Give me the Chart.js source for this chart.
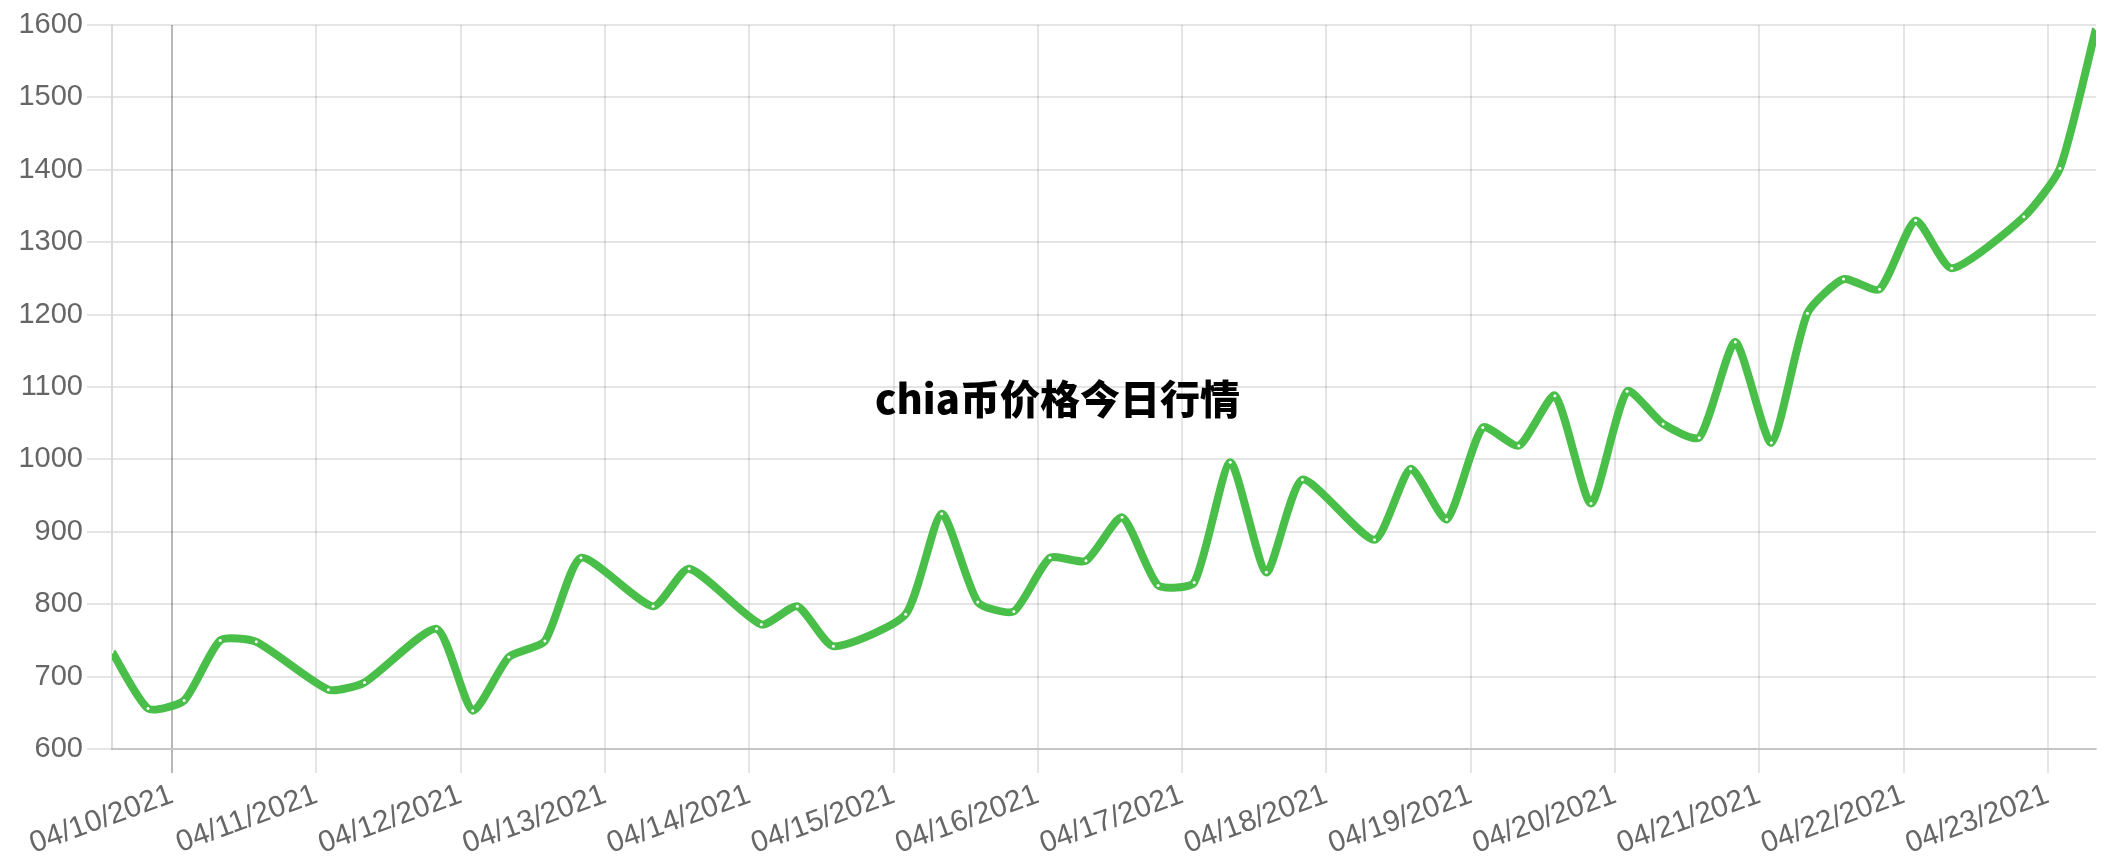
<!DOCTYPE html>
<html>
<head>
<meta charset="utf-8">
<title>chia币价格今日行情</title>
<script src="https://cdn.jsdelivr.net/npm/chart.js@4.4.0/dist/chart.umd.min.js"></script>
<style>
body { margin: 0; background: #fff; }
#wrap { position: relative; width: 2115px; height: 859px; }
#tytul {
	position: absolute; left: 0; top: 372px; width: 2115px;
	text-align: center; line-height: 50px;
	font-family: "Noto Sans CJK SC", "Noto Sans", sans-serif;
	font-weight: 900; font-size: 40px; color: #000;
}
</style>
</head>
<body>
<div id="wrap">
	<canvas id="mycanvas" width="2115" height="859"></canvas>
	<div id="tytul">chia币价格今日行情</div>
</div>
<script>
// czas notowania (co 6h, kilka brakuje)
var czasy = [
	'2021-04-09 14', '2021-04-09 20',
	'2021-04-10 02', '2021-04-10 08', '2021-04-10 14',
	'2021-04-11 02', '2021-04-11 08', '2021-04-11 20',
	'2021-04-12 02', '2021-04-12 08', '2021-04-12 14', '2021-04-12 20',
	'2021-04-13 08', '2021-04-13 14',
	'2021-04-14 02', '2021-04-14 08', '2021-04-14 14',
	'2021-04-15 02', '2021-04-15 08', '2021-04-15 14', '2021-04-15 20',
	'2021-04-16 02', '2021-04-16 08', '2021-04-16 14', '2021-04-16 20',
	'2021-04-17 02', '2021-04-17 08', '2021-04-17 14', '2021-04-17 20',
	'2021-04-18 08', '2021-04-18 14', '2021-04-18 20',
	'2021-04-19 02', '2021-04-19 08', '2021-04-19 14', '2021-04-19 20',
	'2021-04-20 02', '2021-04-20 08', '2021-04-20 14', '2021-04-20 20',
	'2021-04-21 02', '2021-04-21 08', '2021-04-21 14', '2021-04-21 20',
	'2021-04-22 02', '2021-04-22 08', '2021-04-22 20',
	'2021-04-23 02', '2021-04-23 08'
];
// cena
var ceny = [
	734, 656,
	667, 750, 748,
	682, 692, 766,
	653, 727, 749, 864,
	797, 849,
	772, 797, 742,
	786, 925, 803, 790,
	864, 860, 920, 826,
	830, 996, 844, 972,
	889, 987, 917,
	1044, 1019, 1088, 939,
	1094, 1049, 1030, 1162,
	1023, 1202, 1249, 1235,
	1330, 1264, 1335,
	1402, 1595
];
// podpisy osi x
var etykiety = ['04/10/2021', '04/11/2021', '04/12/2021', '04/13/2021', '04/14/2021',
	'04/15/2021', '04/16/2021', '04/17/2021', '04/18/2021', '04/19/2021',
	'04/20/2021', '04/21/2021', '04/22/2021', '04/23/2021'];
var osY = [600, 700, 800, 900, 1000, 1100, 1200, 1300, 1400, 1500, 1600];

var start = Date.UTC(2021, 3, 10, 0);

function godziny(s) {
	var d = s.split(/[- ]/);
	return (Date.UTC(+d[0], +d[1] - 1, +d[2], +d[3]) - start) / 3600000;
}
function dzien(e) {
	var d = e.split('/');
	return (Date.UTC(+d[2], +d[0] - 1, +d[1]) - start) / 3600000;
}

var punkty = [];
for (var i = 0; i < czasy.length; i++) {
	punkty.push({ x: godziny(czasy[i]), y: ceny[i] });
}

var zielony = 'rgb(73, 191, 73)';
var font = "'Liberation Sans', Arial, sans-serif";

var ctx = document.getElementById('mycanvas');
var wykres = new Chart(ctx, {
	type: 'line',
	data: {
		datasets: [{
			label: 'chia',
			data: punkty,
			borderColor: zielony,
			borderWidth: 8,
			fill: false,
			tension: 0.2,
			pointRadius: 1.5,
			pointBorderWidth: 0,
			pointBackgroundColor: '#fff',
			pointHoverRadius: 3
		}]
	},
	options: {
		responsive: false,
		animation: false,
		layout: { padding: { left: 0, right: 19, top: 25, bottom: 0 } },
		plugins: {
			legend: { display: false },
			title: { display: false },
			tooltip: { enabled: false }
		},
		scales: {
			x: {
				type: 'linear',
				min: godziny(czasy[0]),
				max: godziny(czasy[czasy.length - 1]),
				afterBuildTicks: function(skala) {
					skala.ticks = etykiety.map(function(e) { return { value: dzien(e) }; });
				},
				afterFit: function(skala) { skala.height = 110; },
				grid: {
					lineWidth: 2,
					tickLength: 24,
					color: function(c) {
						//linia zero ciemniejsza
						return (c.tick && c.tick.value === 0) ? 'rgba(0,0,0,0.28)' : 'rgba(0,0,0,0.1)';
					}
				},
				border: { color: 'rgba(0,0,0,0.14)', width: 2 },
				ticks: {
					autoSkip: false,
					minRotation: 20,
					maxRotation: 20,
					padding: 4,
					color: '#666',
					font: { family: font, size: 30 },
					callback: function(v, idx) { return etykiety[idx]; }
				}
			},
			y: {
				min: osY[0],
				max: osY[osY.length - 1],
				afterFit: function(skala) { skala.width = 112; },
				grid: { lineWidth: 2, tickLength: 25, color: 'rgba(0,0,0,0.1)' },
				border: { color: 'rgba(0,0,0,0.14)', width: 2 },
				ticks: {
					stepSize: 100,
					padding: 4,
					color: '#666',
					font: { family: font, size: 29 },
					callback: function(v) { return String(v); }
				}
			}
		}
	}
});
</script>
</body>
</html>
